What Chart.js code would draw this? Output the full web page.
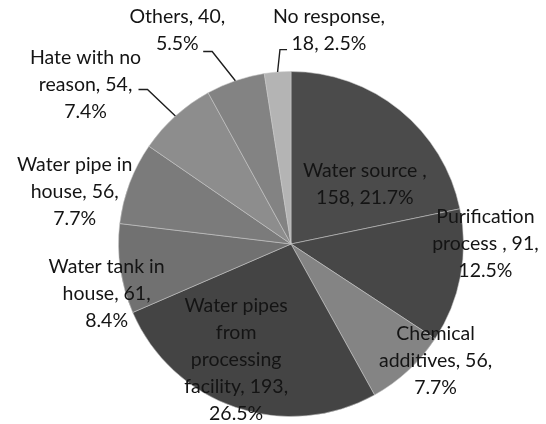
<!DOCTYPE html>
<html>
<head>
<meta charset="utf-8">
<script src="https://cdn.jsdelivr.net/npm/chart.js@4/dist/chart.umd.min.js"></script>
<style>
  html, body { margin: 0; padding: 0; background: #ffffff; }
  #wrap { width: 546px; height: 424px; }
</style>
</head>
<body>
<div id="wrap"><canvas id="pie" width="546" height="424"></canvas></div>
<script>
// Reasons given, clockwise from 12 o'clock
const categories = [
  'Water source',
  'Purification process',
  'Chemical additives',
  'Water pipes from processing facility',
  'Water tank in house',
  'Water pipe in house',
  'Hate with no reason',
  'Others',
  'No response'
];
const counts = [158, 91, 56, 193, 61, 56, 54, 40, 18];

// Wrapped label text; {v} = count, {p} = share of total
const labelLines = [
  ['Water source ,', '{v}, {p}'],
  ['Purification', 'process , {v},', '{p}'],
  ['Chemical', 'additives, {v},', '{p}'],
  ['Water pipes', 'from', 'processing', 'facility, {v},', '{p}'],
  ['Water tank in', 'house, {v},', '{p}'],
  ['Water pipe in', 'house, {v},', '{p}'],
  ['Hate with no', 'reason, {v},', '{p}'],
  ['Others, {v},', '{p}'],
  ['No response,', '{v}, {p}']
];

// Slice fills (greyscale)
const sliceColors = ['#4b4b4b', '#474747', '#848484', '#444444', '#717171', '#7b7b7b', '#8d8d8d', '#838383', '#b4b4b4'];

// Label block centres, in units of the pie radius from the pie centre
const labelPos = [
  [0.428, -0.344],
  [1.127, 0.0],
  [0.838, 0.676],
  [-0.318, 0.671],
  [-1.069, 0.289],
  [-1.254, -0.301],
  [-1.191, -0.925],
  [-0.659, -1.240],
  [0.220, -1.240]
];

// Leader lines: [elbow, end] in radius units, null when the label sits on its slice
const leaders = [
  null, null, null, null, null, null,
  [[-0.832, -0.896], [-0.884, -0.896]],
  [[-0.457, -1.116], [-0.509, -1.116]],
  [[-0.064, -1.127], [-0.023, -1.127]]
];

const LABEL_FONT = '19.5px Lato, "Open Sans", sans-serif';
const LINE_H = 27;

const total = counts.reduce((a, b) => a + b, 0);

const sliceLabels = {
  id: 'sliceLabels',
  afterDatasetsDraw(chart) {
    const ctx = chart.ctx;
    const arcs = chart.getDatasetMeta(0).data;
    ctx.save();
    // leader lines
    ctx.strokeStyle = '#1e1e1e';
    ctx.lineWidth = 1.4;
    arcs.forEach((arc, i) => {
      const ld = leaders[i];
      if (!ld) return;
      const { x, y, startAngle, endAngle, outerRadius } = arc.getProps(['x', 'y', 'startAngle', 'endAngle', 'outerRadius'], true);
      const mid = (startAngle + endAngle) / 2;
      ctx.beginPath();
      ctx.moveTo(x + Math.cos(mid) * outerRadius, y + Math.sin(mid) * outerRadius);
      ctx.lineTo(x + ld[0][0] * outerRadius, y + ld[0][1] * outerRadius);
      ctx.lineTo(x + ld[1][0] * outerRadius, y + ld[1][1] * outerRadius);
      ctx.stroke();
    });
    // label text
    ctx.font = LABEL_FONT;
    ctx.fillStyle = '#141414';
    ctx.textAlign = 'center';
    ctx.textBaseline = 'middle';
    arcs.forEach((arc, i) => {
      const { x, y, outerRadius } = arc.getProps(['x', 'y', 'outerRadius'], true);
      const v = counts[i];
      const p = (v / total * 100).toFixed(1) + '%';
      const lines = labelLines[i].map(s => s.replace('{v}', v).replace('{p}', p));
      const cx = x + labelPos[i][0] * outerRadius;
      const cy = y + labelPos[i][1] * outerRadius;
      const top = cy - (lines.length - 1) * LINE_H / 2;
      lines.forEach((s, k) => ctx.fillText(s, cx, top + k * LINE_H));
    });
    ctx.restore();
  }
};

new Chart(document.getElementById('pie'), {
  type: 'pie',
  data: {
    labels: categories,
    datasets: [{
      data: counts,
      backgroundColor: sliceColors,
      borderColor: 'rgba(200,200,200,0.55)',
      borderWidth: 1
    }]
  },
  options: {
    responsive: false,
    animation: false,
    layout: { padding: { top: 71, bottom: 7, left: 118, right: 82 } },
    plugins: {
      legend: { display: false },
      tooltip: { enabled: false }
    }
  },
  plugins: [sliceLabels]
});
</script>
</body>
</html>
